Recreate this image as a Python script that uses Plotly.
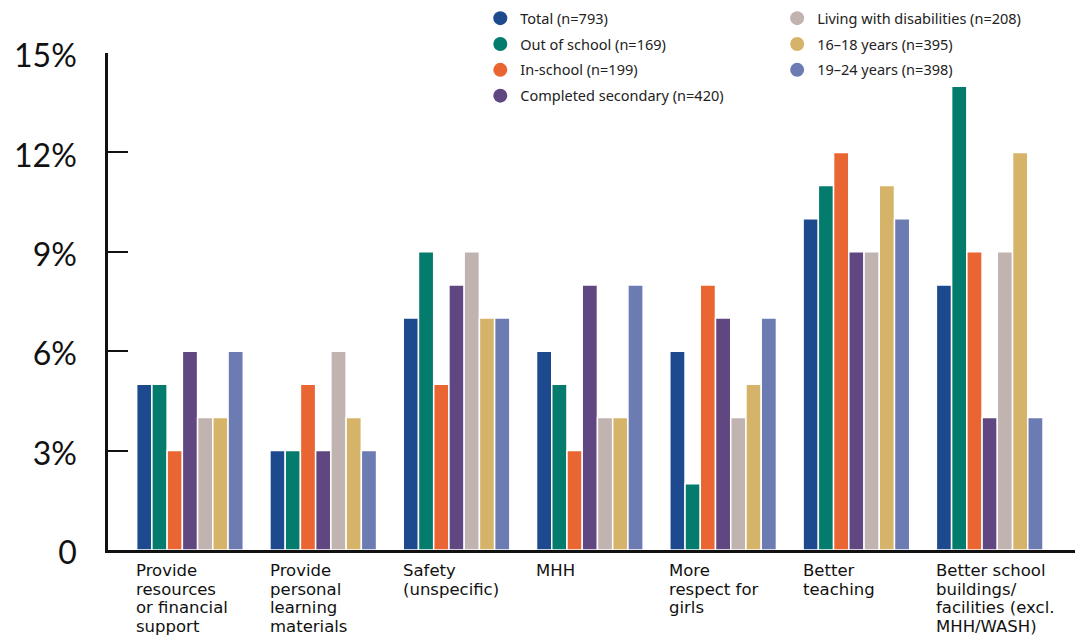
import plotly.graph_objects as go

# Categories shown on the x axis, one list entry per printed line
categories = [
    ["Provide", "resources", "or financial", "support"],
    ["Provide", "personal", "learning", "materials"],
    ["Safety", "(unspecific)"],
    ["MHH"],
    ["More", "respect for", "girls"],
    ["Better", "teaching"],
    ["Better school", "buildings/", "facilities (excl.", "MHH/WASH)"],
]

# Share of respondents (%) per group
total = [5, 3, 7, 6, 6, 10, 8]
out_of_school = [5, 3, 9, 5, 2, 11, 14]
in_school = [3, 5, 5, 3, 8, 12, 9]
completed_secondary = [6, 3, 8, 8, 7, 9, 4]
disabilities = [4, 6, 9, 4, 4, 9, 9]
age_16_18 = [4, 4, 7, 4, 5, 11, 12]
age_19_24 = [6, 3, 7, 8, 7, 10, 4]

series_names = [
    "Total (n=793)",
    "Out of school (n=169)",
    "In-school (n=199)",
    "Completed secondary (n=420)",
    "Living with disabilities (n=208)",
    "16–18 years (n=395)",
    "19–24 years (n=398)",
]
series_values = [total, out_of_school, in_school, completed_secondary,
                 disabilities, age_16_18, age_19_24]
colors = ["#1d4a8e", "#037b6d", "#e96632", "#614781",
          "#c1b3af", "#d5b46a", "#6c7bb2"]

y_ticks = [0, 3, 6, 9, 12, 15]
y_tick_text = ["0", "3%", "6%", "9%", "12%", "15%"]

x_idx = list(range(len(categories)))

fig = go.Figure()
for name, vals, col in zip(series_names, series_values, colors):
    fig.add_trace(go.Bar(
        x=x_idx, y=vals, name=name, showlegend=False,
        marker=dict(color=col, line=dict(color="white", width=1.5)),
        hoverinfo="y+name",
    ))

# Legend entries with round markers, split in two columns
for i, (name, col) in enumerate(zip(series_names, colors)):
    fig.add_trace(go.Scatter(
        x=[None], y=[None], mode="markers", name=name,
        marker=dict(color=col, size=14, symbol="circle"),
        legendgroup=f"g{i}",
        legend="legend" if i < 4 else "legend2",
    ))

legend_common = dict(
    xanchor="left", yanchor="top", bgcolor="rgba(0,0,0,0)",
    font=dict(family="Noto Sans", size=14.5, color="#222222"),
    tracegroupgap=4, itemclick=False, itemdoubleclick=False,
)

fig.update_layout(
    width=1078, height=639,
    margin=dict(l=108, r=3, t=52, b=89),
    plot_bgcolor="white", paper_bgcolor="white",
    barmode="group", bargap=0.2, bargroupgap=0,
    legend=dict(x=0.385, y=1.1, **legend_common),
    legend2=dict(x=0.692, y=1.1, **legend_common),
    xaxis=dict(
        range=[-0.615, 6.64], showticklabels=False, ticks="",
        showline=True, linecolor="#111111", linewidth=3,
        showgrid=False, zeroline=False,
    ),
    yaxis=dict(
        range=[0, 15], tickvals=y_ticks, ticktext=y_tick_text,
        ticks="inside", ticklen=20, tickwidth=2, tickcolor="#111111",
        showline=True, linecolor="#111111", linewidth=2.5,
        showgrid=False, zeroline=False,
        tickfont=dict(family="Lato", size=32, color="#111111"),
        ticklabelstandoff=22, ticklabelshift=3,
    ),
)

# Category labels, left-aligned under each bar group, tight line spacing
line_step = 18.7
for i, lines in enumerate(categories):
    for j, line in enumerate(lines):
        fig.add_annotation(
            x=i - 0.41, y=0, xref="x", yref="paper",
            text=line, showarrow=False, xanchor="left", yanchor="top",
            align="left", yshift=-10 - j * line_step,
            borderpad=0,
            font=dict(family="DejaVu Sans", size=16.5, color="#111111"),
        )

fig.write_html("out.html")
